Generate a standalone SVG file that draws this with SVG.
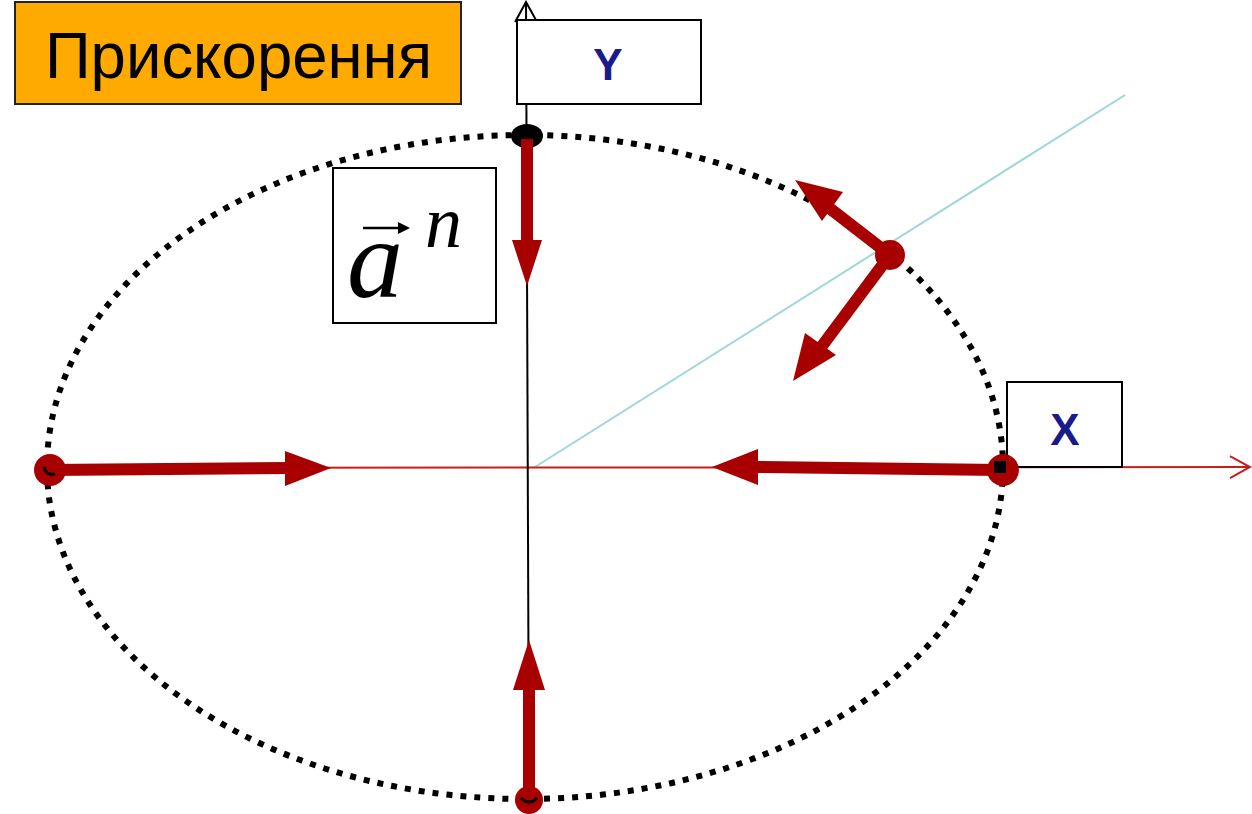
<svg xmlns="http://www.w3.org/2000/svg" width="1252" height="814" viewBox="0 0 1252 814">
<style>
.box{fill:#fff;stroke:#000;stroke-width:2}
.lbl{font-family:"Liberation Sans",Arial,sans-serif;font-weight:bold;font-size:44px;fill:#1a1a8a;text-anchor:middle}
.vec{fill:#a80000;stroke:none}
.shaft{stroke:#a80000;stroke-width:12;fill:none}
</style>
<defs>
<marker id="open" markerWidth="30" markerHeight="30" refX="22" refY="12" orient="auto" markerUnits="userSpaceOnUse">
<path d="M2,1 L22,12 L2,23" fill="none" stroke="context-stroke" stroke-width="2"/>
</marker>
</defs>
<rect width="1252" height="814" fill="#fff"/>

<g id="ellipse">
<ellipse cx="525" cy="467" rx="478" ry="332" fill="none" stroke="#000" stroke-width="6" stroke-dasharray="6 8"/>
</g>

<g id="connectors">
<line x1="535" y1="467" x2="1125" y2="95" stroke="#9fd6d6" stroke-width="2"/>
<line x1="48" y1="468" x2="1250" y2="467" stroke="#c81e1e" stroke-width="2" marker-end="url(#open)"/>
<line x1="529" y1="800" x2="526" y2="2" stroke="#000" stroke-width="2" marker-end="url(#open)"/>
</g>

<g id="title">
<rect x="15" y="2" width="446" height="102" fill="#ffaa00" stroke="#222" stroke-width="2"/>
<text x="45" y="78" font-family="'Liberation Sans',Arial,sans-serif" font-size="64" textLength="387" lengthAdjust="spacingAndGlyphs" fill="#000">Прискорення</text>
</g>

<g id="ybox">
<rect class="box" x="517" y="20" width="184" height="84"/>
<text class="lbl" x="608" y="80">Y</text>
</g>

<g id="xbox">
<rect class="box" x="1007" y="382" width="115" height="85"/>
<text class="lbl" x="1065" y="445">X</text>
</g>

<g id="an">
<rect class="box" x="333" y="168" width="163" height="155"/>
<text x="347" y="297" font-family="'Liberation Serif','Times New Roman',serif" font-style="italic" font-size="112" fill="#000">a</text>
<text x="425" y="247" font-family="'Liberation Serif','Times New Roman',serif" font-style="italic" font-size="74" fill="#000">n</text>
<line x1="363" y1="228" x2="404" y2="228" stroke="#000" stroke-width="2.5"/>
<path d="M398,222 L410,228 L398,234 Z" fill="#000"/>
</g>

<g id="arrow-top">
<line class="shaft" x1="527" y1="135" x2="527" y2="245"/>
<path class="vec" d="M512,240 L542,240 L527,286 Z"/>
<ellipse cx="527" cy="136" rx="16" ry="12" fill="#000"/>
<rect x="521" y="139" width="12" height="12" fill="#a80000"/>
</g>

<g id="arrow-bottom">
<line class="shaft" x1="529" y1="800" x2="529" y2="685"/>
<path class="vec" d="M513,690 L545,690 L529,640 Z"/>
<circle cx="529" cy="800" r="14" fill="#a80000"/>
<path d="M521,798 Q529,806 537,798" fill="none" stroke="#000" stroke-width="3"/>
</g>

<g id="arrow-left">
<line class="shaft" x1="48" y1="470" x2="290" y2="468"/>
<path class="vec" d="M285,451 L285,486 L331,468 Z"/>
<circle cx="50" cy="470" r="16" fill="#a80000"/>
<path d="M44,467 Q46,476 55,474" fill="none" stroke="#000" stroke-width="3"/>
</g>

<g id="arrow-right">
<line class="shaft" x1="1000" y1="470" x2="755" y2="467"/>
<path class="vec" d="M758,449 L758,485 L712,467 Z"/>
<circle cx="1003" cy="470" r="16" fill="#a80000"/>
<rect x="994" y="461" width="12" height="12" fill="#000"/>
</g>

<g id="arrow-tangent">
<line class="shaft" x1="890" y1="255" x2="828" y2="207" stroke-width="14"/>
<path class="vec" d="M795,180 L843,192 L822,221 Z"/>
<line class="shaft" x1="890" y1="255" x2="822" y2="346" stroke-width="14"/>
<path class="vec" d="M793,381 L805,333 L836,355 Z"/>
<circle cx="890" cy="255" r="15" fill="#a80000"/>
</g>
</svg>
